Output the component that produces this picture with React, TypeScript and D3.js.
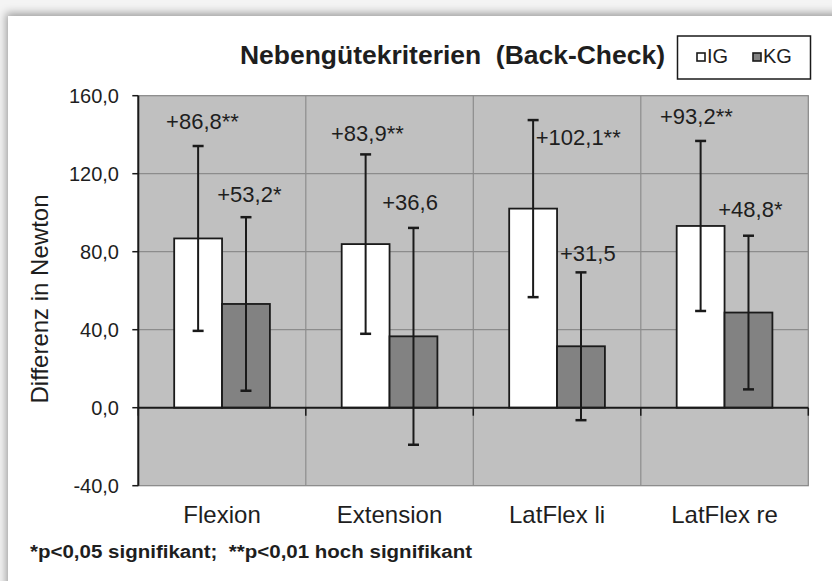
import React from 'react';
import * as d3 from 'd3';

const categories = ['Flexion', 'Extension', 'LatFlex li', 'LatFlex re'];
const seriesNames = ['IG', 'KG'];
const igMeans = [86.8, 83.9, 102.1, 93.2];
const kgMeans = [53.2, 36.6, 31.5, 48.8];
const igSD = [47.4, 46.0, 45.4, 43.6];
const kgSD = [44.5, 55.6, 37.9, 39.4];
const igLabels = ['+86,8**', '+83,9**', '+102,1**', '+93,2**'];
const kgLabels = ['+53,2*', '+36,6', '+31,5', '+48,8*'];
const yTicks = [-40, 0, 40, 80, 120, 160];
const yTickLabels = ['-40,0', '0,0', '40,0', '80,0', '120,0', '160,0'];
const title = 'Nebengütekriterien  (Back-Check)';
const yTitle = 'Differenz in Newton';
const footnote = '*p<0,05 signifikant;  **p<0,01 hoch signifikant';

// label placement (layout only)
const igLabelLayout = [
  { dx: -32, y: 142.8 },
  { dx: -34.6, y: 136.8 },
  { dx: 2.6, y: 134.7 },
  { dx: -40.6, y: 145.3 },
];
const kgLabelLayout = [
  { dx: -28.7, y: 105.3 },
  { dx: -31.2, y: 101.4 },
  { dx: -21, y: 75.2 },
  { dx: -30.2, y: 98 },
];

const FONT = "'Liberation Sans', Arial, Helvetica, sans-serif";
const W = 832;
const H = 581;
const plot = { left: 138.3, right: 808.3, top: 95.7, bottom: 485.7 };
const TEXT = '#1e1e1e';
const IG_FILL = '#ffffff';
const KG_FILL = '#828282';

export default function App() {
  const x = d3.scaleBand<string>().domain(categories).range([plot.left, plot.right]).paddingInner(0).paddingOuter(0);
  const xs = d3.scaleBand<string>().domain(seriesNames).range([0, x.bandwidth()]).paddingInner(0).paddingOuter(0.75);
  const y = d3.scaleLinear().domain([-40, 160]).range([plot.bottom, plot.top]);
  const bw = xs.bandwidth();

  const groups = [
    { name: 'IG', means: igMeans, sd: igSD, labels: igLabels, layout: igLabelLayout, fill: IG_FILL },
    { name: 'KG', means: kgMeans, sd: kgSD, labels: kgLabels, layout: kgLabelLayout, fill: KG_FILL },
  ];
  const boundaries = categories.map((c) => x(c) as number).concat([plot.right]);

  return (
    <svg width={W} height={H} style={{ position: 'absolute', left: 0, top: 0 }} fontFamily={FONT}>
      <defs>
        <filter id="sh" x="-10%" y="-10%" width="130%" height="130%">
          <feDropShadow dx="-2" dy="-3" stdDeviation="4" floodColor="#000" floodOpacity="0.35" />
        </filter>
      </defs>
      <rect x={0} y={0} width={W} height={H} fill="#f4f4f4" />
      <rect x={8} y={16} width={900} height={700} fill="#fff" filter="url(#sh)" />

      {/* plot area */}
      <rect x={plot.left} y={plot.top} width={plot.right - plot.left} height={plot.bottom - plot.top} fill="#c0c0c0" stroke="#858585" strokeWidth={1.2} />
      {yTicks.filter((t) => t !== 0 && t !== -40 && t !== 160).map((t) => (
        <line key={'g' + t} x1={plot.left} x2={plot.right} y1={y(t)} y2={y(t)} stroke="#8c8c8c" strokeWidth={1.2} />
      ))}
      {boundaries.slice(1, -1).map((bx, i) => (
        <line key={'v' + i} x1={bx} x2={bx} y1={plot.top} y2={plot.bottom} stroke="#8c8c8c" strokeWidth={1.2} />
      ))}

      {/* bars */}
      {groups.map((g) =>
        categories.map((c, i) => {
          const bx = (x(c) as number) + (xs(g.name) as number);
          const y0 = y(0);
          const y1 = y(g.means[i]);
          return (
            <rect key={g.name + c} x={bx} y={Math.min(y0, y1)} width={bw} height={Math.abs(y0 - y1)} fill={g.fill} stroke="#1a1a1a" strokeWidth={1.8} />
          );
        })
      )}

      {/* zero line and ticks */}
      <line x1={plot.left} x2={plot.right} y1={y(0)} y2={y(0)} stroke="#1a1a1a" strokeWidth={2} />
      {boundaries.map((bx, i) => (
        <line key={'xt' + i} x1={bx} x2={bx} y1={y(0)} y2={y(0) + 8} stroke="#1a1a1a" strokeWidth={1.5} />
      ))}

      {/* error bars */}
      {groups.map((g) =>
        categories.map((c, i) => {
          const cx = (x(c) as number) + (xs(g.name) as number) + bw / 2;
          const yt = y(g.means[i] + g.sd[i]);
          const yb = y(g.means[i] - g.sd[i]);
          return (
            <g key={'e' + g.name + c} stroke="#1a1a1a">
              <line x1={cx} x2={cx} y1={yt} y2={yb} strokeWidth={2} />
              <line x1={cx - 5.5} x2={cx + 5.5} y1={yt} y2={yt} strokeWidth={2.5} />
              <line x1={cx - 5.5} x2={cx + 5.5} y1={yb} y2={yb} strokeWidth={2.5} />
            </g>
          );
        })
      )}

      {/* data labels */}
      {groups.map((g) =>
        categories.map((c, i) => {
          const cx = (x(c) as number) + (xs(g.name) as number) + bw / 2;
          return (
            <text key={'l' + g.name + c} x={cx + g.layout[i].dx} y={y(g.layout[i].y)} fontSize={22} fill={TEXT}>
              {g.labels[i]}
            </text>
          );
        })
      )}

      {/* y axis */}
      <line x1={plot.left} x2={plot.left} y1={plot.top} y2={plot.bottom} stroke="#1a1a1a" strokeWidth={2} />
      {yTicks.map((t, i) => (
        <g key={'yt' + t}>
          <line x1={plot.left - 6} x2={plot.left} y1={y(t)} y2={y(t)} stroke="#1a1a1a" strokeWidth={1.5} />
          <text x={119} y={y(t)} dy="0.36em" textAnchor="end" fontSize={20} fill={TEXT}>
            {yTickLabels[i]}
          </text>
        </g>
      ))}
      <text transform={`translate(48, 299) rotate(-90)`} textAnchor="middle" fontSize={24} fill={TEXT}>
        {yTitle}
      </text>

      {/* category labels */}
      {categories.map((c) => (
        <text key={'c' + c} x={(x(c) as number) + x.bandwidth() / 2} y={523} textAnchor="middle" fontSize={24} fill={TEXT}>
          {c}
        </text>
      ))}

      {/* title */}
      <text x={240} y={64} fontSize={25} fontWeight="bold" fill={TEXT} textLength={425} lengthAdjust="spacingAndGlyphs" style={{ whiteSpace: 'pre' }}>
        {title}
      </text>

      {/* legend */}
      <rect x={677.5} y={36} width={133} height={43} fill="#fff" stroke="#1a1a1a" strokeWidth={1.5} />
      <rect x={697} y={53} width={8} height={8} fill={IG_FILL} stroke="#1a1a1a" strokeWidth={1.6} />
      <text x={707} y={63} fontSize={20} fill={TEXT}>{seriesNames[0]}</text>
      <rect x={753} y={53} width={8} height={8} fill={KG_FILL} stroke="#1a1a1a" strokeWidth={1.6} />
      <text x={763} y={63} fontSize={20} fill={TEXT}>{seriesNames[1]}</text>

      {/* footnote */}
      <text x={30} y={558} fontSize={18} fontWeight="bold" fill={TEXT} textLength={442} lengthAdjust="spacingAndGlyphs" style={{ whiteSpace: 'pre' }}>
        {footnote}
      </text>
    </svg>
  );
}
